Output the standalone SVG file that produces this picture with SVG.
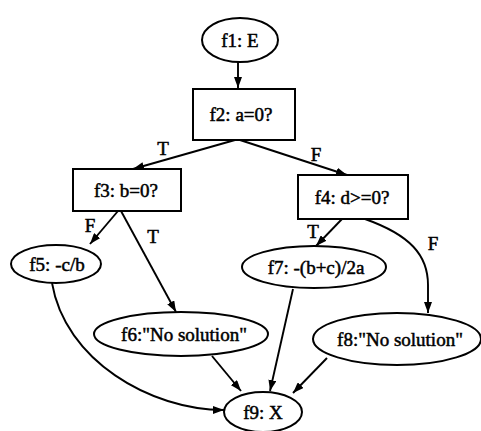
<svg xmlns="http://www.w3.org/2000/svg" width="481" height="431" viewBox="0 0 481 431">
  <defs>
    <marker id="arrow" viewBox="0 0 11 8" refX="11" refY="4" markerWidth="11" markerHeight="8" markerUnits="userSpaceOnUse" orient="auto">
      <path d="M0,0 L11,4 L0,8 Z" fill="#000"/>
    </marker>
    <style>
      .shape { fill: #fff; stroke: #000; stroke-width: 2; }
      .edge { fill: none; stroke: #000; stroke-width: 1.9; marker-end: url(#arrow); }
      text { font-family: "Liberation Serif", "Times New Roman", serif; font-size: 19px; fill: #000; stroke: #000; stroke-width: 0.5; text-anchor: middle; }
    </style>
  </defs>
  <rect width="481" height="431" fill="#fff"/>

  <!-- connectors -->
  <g id="edges">
    <path class="edge" d="M238,62 L238,88"/>
    <path class="edge" d="M235,140 L133,169"/>
    <path class="edge" d="M240,140 L347,175"/>
    <path class="edge" d="M118,211 L90,244"/>
    <path class="edge" d="M121,211 L176,312"/>
    <path class="edge" d="M342,219 L316,246"/>
    <path class="edge" d="M365,219 C410,235 428,255 428,285 L428,313"/>
    <path class="edge" d="M52,283 C65,360 150,410 224,410"/>
    <path class="edge" d="M212,356 L241,391"/>
    <path class="edge" d="M293,289 L270,391"/>
    <path class="edge" d="M327,358 L293,393"/>
    <text x="163" y="155">T</text>
    <text x="316" y="161">F</text>
    <text x="90" y="232">F</text>
    <text x="153" y="243">T</text>
    <text x="313" y="238">T</text>
    <text x="433" y="250">F</text>
  </g>

  <!-- nodes -->
  <g id="f1">
    <ellipse class="shape" cx="240" cy="40" rx="38" ry="22"/>
    <text x="240" y="47">f1: E</text>
  </g>
  <g id="f2">
    <rect class="shape" x="193" y="89" width="102" height="51"/>
    <text x="241" y="121">f2: a=0?</text>
  </g>
  <g id="f3">
    <rect class="shape" x="73" y="169" width="108" height="42"/>
    <text x="126" y="197">f3: b=0?</text>
  </g>
  <g id="f4">
    <rect class="shape" x="298" y="175" width="110" height="44"/>
    <text x="352" y="204">f4: d&gt;=0?</text>
  </g>
  <g id="f5">
    <ellipse class="shape" cx="56" cy="264" rx="45" ry="19"/>
    <text x="57" y="271">f5: -c/b</text>
  </g>
  <g id="f6">
    <ellipse class="shape" cx="181" cy="334" rx="87" ry="22"/>
    <text x="184" y="341">f6:"No solution"</text>
  </g>
  <g id="f7">
    <ellipse class="shape" cx="314" cy="267" rx="72" ry="21"/>
    <text x="316" y="274">f7: -(b+c)/2a</text>
  </g>
  <g id="f8">
    <ellipse class="shape" cx="397" cy="339" rx="84" ry="26"/>
    <text x="400" y="346">f8:"No solution"</text>
  </g>
  <g id="f9">
    <ellipse class="shape" cx="263" cy="412" rx="39" ry="20"/>
    <text x="263" y="419">f9: X</text>
  </g>
</svg>
